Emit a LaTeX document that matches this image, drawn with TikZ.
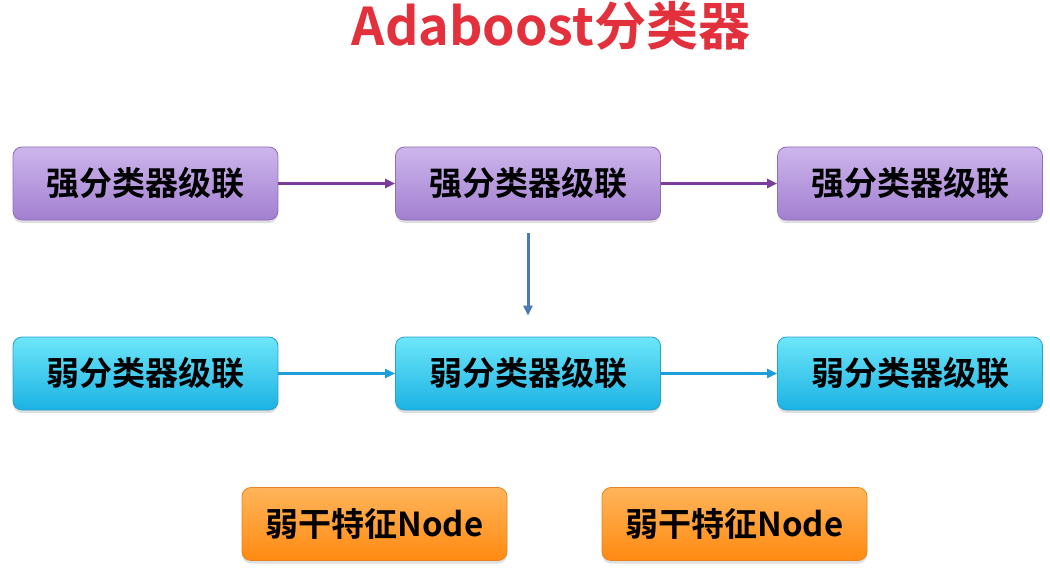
\documentclass[tikz,border=0pt]{standalone}
\usepackage{fontspec}
\newfontfamily\cjkb{Noto Sans CJK SC Bold}
\usetikzlibrary{shadows,arrows.meta}
\definecolor{ptop}{HTML}{CDB6EC}
\definecolor{pbot}{HTML}{A27FD0}
\definecolor{pdraw}{HTML}{8F6DBB}
\definecolor{ctop}{HTML}{6DE6FA}
\definecolor{cbot}{HTML}{1BB2E2}
\definecolor{cdraw}{HTML}{2A9FCB}
\definecolor{otop}{HTML}{FFB55A}
\definecolor{obot}{HTML}{FF8A12}
\definecolor{odraw}{HTML}{E88420}
\definecolor{titlered}{HTML}{E2313C}
\definecolor{parrow}{HTML}{7A3D9A}
\definecolor{carrow}{HTML}{1E9ED8}
\definecolor{varrow}{HTML}{4A78B8}
\tikzset{
  box/.style={rounded corners=9pt, minimum width=265pt, minimum height=73pt, inner sep=0pt,
    font=\cjkb\fontsize{33}{33}\selectfont, text=black, line width=0.8pt,
    drop shadow={shadow xshift=0pt, shadow yshift=-3pt, opacity=0.25}},
  strong/.style={box, draw=pdraw, top color=ptop, bottom color=pbot},
  weak/.style={box, draw=cdraw, top color=ctop, bottom color=cbot},
  feat/.style={box, draw=odraw, top color=otop, bottom color=obot},
  conn/.style={line width=2.2pt, -{Triangle[length=10pt,width=9pt]}}
}
\begin{document}
\begin{tikzpicture}[x=1pt,y=-1pt]
\useasboundingbox (0,0) rectangle (1050,575);
\node[font=\cjkb\fontsize{52}{52}\selectfont, text=titlered] (title) at (551,26) {Adaboost分类器};
\node[strong] (s1) at (145.5,183.5) {强分类器级联};
\node[strong] (s2) at (528,183.5) {强分类器级联};
\node[strong] (s3) at (910,183.5) {强分类器级联};
\node[weak] (w1) at (145.5,373.5) {弱分类器级联};
\node[weak] (w2) at (528,373.5) {弱分类器级联};
\node[weak] (w3) at (910,373.5) {弱分类器级联};
\node[feat] (f1) at (374.5,524) {弱干特征Node};
\node[feat] (f2) at (734.5,524) {弱干特征Node};
\draw[conn, draw=parrow, fill=parrow] (s1) -- (s2);
\draw[conn, draw=parrow, fill=parrow] (s2) -- (s3);
\draw[conn, draw=carrow, fill=carrow] (w1) -- (w2);
\draw[conn, draw=carrow, fill=carrow] (w2) -- (w3);
\draw[conn, line width=3pt, draw=varrow, fill=varrow] ([yshift=-13pt]s2.south) -- ([yshift=21pt]w2.north);
\end{tikzpicture}
\end{document}
